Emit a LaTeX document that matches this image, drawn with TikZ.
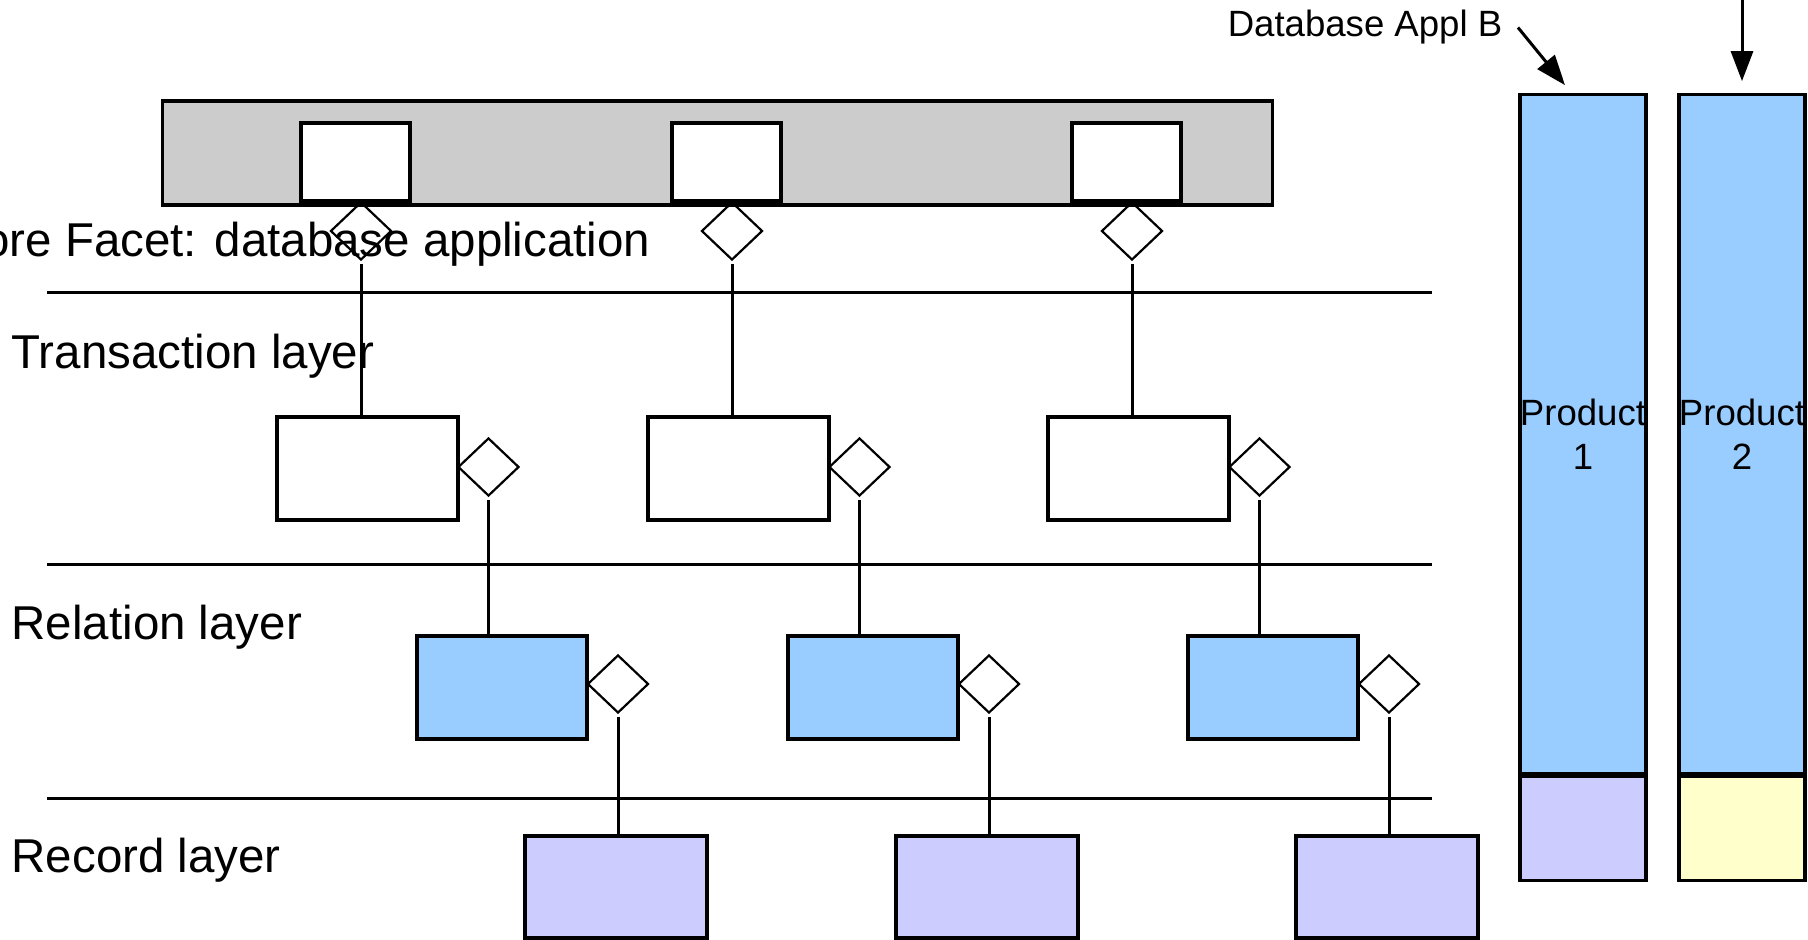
\documentclass[tikz,border=0pt]{standalone}
\usepackage{fontspec}
\setmainfont{Liberation Sans}
\usetikzlibrary{arrows.meta,shapes.geometric}
\definecolor{relblue}{HTML}{99CCFF}
\definecolor{reclilac}{HTML}{CCCCFF}
\definecolor{prodyellow}{HTML}{FFFFCC}
\definecolor{appgray}{HTML}{CCCCCC}

\begin{document}
\begin{tikzpicture}[x=0.01cm, y=-0.01cm,
  box/.style={draw, line width=0.033cm, inner sep=0pt},
  facet/.style={box, fill=white, minimum width=1.09cm, minimum height=0.78cm},
  trans/.style={box, fill=white, minimum width=1.81cm, minimum height=1.03cm},
  rel/.style={box, fill=relblue, minimum width=1.70cm, minimum height=1.03cm},
  rec/.style={box, fill=reclilac, minimum width=1.82cm, minimum height=1.02cm},
  agg/.style={diamond, draw, line width=0.022cm, inner sep=0pt,
              minimum width=0.61cm, minimum height=0.58cm},
  link/.style={line width=0.03cm, shorten <=0.03cm},
  sep/.style={line width=0.03cm},
  layer/.style={font=\fontsize{13.5}{16}\selectfont, anchor=base west, inner sep=0pt},
  small/.style={font=\fontsize{10.4}{12.6}\selectfont, align=center, inner sep=0pt},
  arrow/.style={-{Triangle[length=0.3cm,width=0.22cm]}, line width=0.03cm},
]
\useasboundingbox (0,0) rectangle (1808,940);
\clip (0,0) rectangle (1808,940);

%% ── Application bar ───────────────────────────────────────────────────────
\node[box, fill=appgray, line width=0.035cm,
      minimum width=11.09cm, minimum height=1.04cm] (app) at (717.5,153) {};
\node[facet] (fc1) at (355.5,162) {};
\node[facet] (fc2) at (726.5,162) {};
\node[facet] (fc3) at (1126.5,162) {};

\node[layer, anchor=base east] (core) at (651,257) {Core Facet: database application};

\node[agg] (fa1) at (361,231) {};
\node[agg] (fa2) at (732,231) {};
\node[agg] (fa3) at (1132,231) {};

%% ── Layer separators ──────────────────────────────────────────────────────
\draw[sep] (47,293) -- (1432,293);
\draw[sep] (47,565) -- (1432,565);
\draw[sep] (47,799) -- (1432,799);

\node[layer] (ltrans) at (11,369) {Transaction layer};
\node[layer] (lrel)   at (11,640) {Relation layer};
\node[layer] (lrec)   at (11,873) {Record layer};

%% ── Transaction layer ─────────────────────────────────────────────────────
\node[trans] (tr1) at (367.5,468.5) {};
\node[trans] (tr2) at (738.5,468.5) {};
\node[trans] (tr3) at (1138.5,468.5) {};

\node[agg] (ta1) at (488.5,467) {};
\node[agg] (ta2) at (859.5,467) {};
\node[agg] (ta3) at (1259.5,467) {};

%% ── Relation layer ────────────────────────────────────────────────────────
\node[rel] (rl1) at (502,687.5) {};
\node[rel] (rl2) at (873,687.5) {};
\node[rel] (rl3) at (1273,687.5) {};

\node[agg] (ra1) at (618,684) {};
\node[agg] (ra2) at (989,684) {};
\node[agg] (ra3) at (1389,684) {};

%% ── Record layer ──────────────────────────────────────────────────────────
\node[rec] (rc1) at (616,887) {};
\node[rec] (rc2) at (987,887) {};
\node[rec] (rc3) at (1387,887) {};

%% ── Links ─────────────────────────────────────────────────────────────────
\draw[link] (fa1.south) -- (fa1.south |- tr1.north);
\draw[link] (fa2.south) -- (fa2.south |- tr2.north);
\draw[link] (fa3.south) -- (fa3.south |- tr3.north);

\draw[link] (ta1.south) -- (ta1.south |- rl1.north);
\draw[link] (ta2.south) -- (ta2.south |- rl2.north);
\draw[link] (ta3.south) -- (ta3.south |- rl3.north);

\draw[link] (ra1.south) -- (ra1.south |- rc1.north);
\draw[link] (ra2.south) -- (ra2.south |- rc2.north);
\draw[link] (ra3.south) -- (ra3.south |- rc3.north);

%% ── Products ──────────────────────────────────────────────────────────────
\node[box, small, fill=relblue, minimum width=1.26cm, minimum height=6.78cm]
  (p1) at (1583,434) {Product\\1};
\node[box, fill=reclilac, minimum width=1.26cm, minimum height=1.04cm,
      anchor=north] (q1) at (p1.south) {};

\node[box, small, fill=relblue, minimum width=1.26cm, minimum height=6.78cm]
  (p2) at (1742,434) {Product\\2};
\node[box, fill=prodyellow, minimum width=1.26cm, minimum height=1.04cm,
      anchor=north] (q2) at (p2.south) {};

% applications pointing at the products
\node[small, anchor=base east] (applB) at (1503,37) {Database Appl B};
\draw[arrow] ([xshift=0.15cm]applB.east) -- ([xshift=-0.18cm,yshift=0.08cm]p1.north);

\coordinate (applA) at (1742,-10);
\draw[arrow] (applA) -- ([yshift=0.12cm]p2.north);

\end{tikzpicture}
\end{document}
